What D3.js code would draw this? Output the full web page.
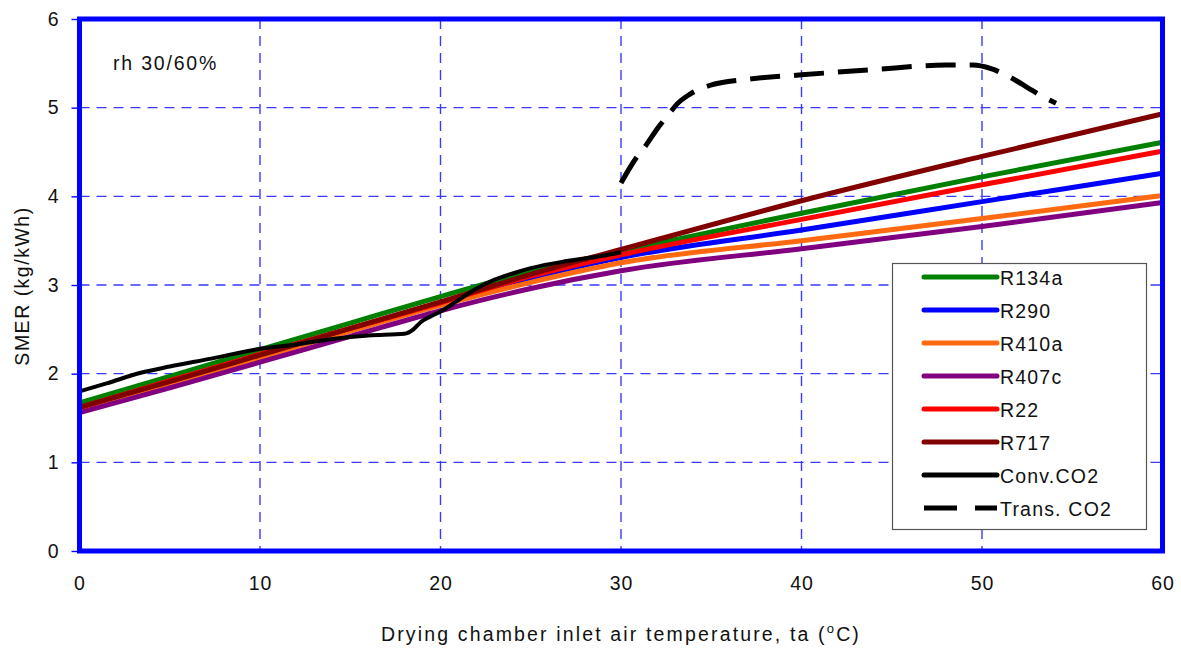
<!DOCTYPE html>
<html>
<head>
<meta charset="utf-8">
<script src="https://cdn.jsdelivr.net/npm/d3@7"></script>
<style>
  html, body { margin: 0; padding: 0; background: #ffffff; }
  svg { display: block; }
  text { font-family: Arial, "Liberation Sans", sans-serif; fill: #111; }
</style>
</head>
<body>
<svg id="chart" width="1181" height="652"></svg>
<script>
// Inlet air temperature (°C) sample points for the refrigerant curves
const temps = [0, 5, 10, 15, 20, 25, 30, 40, 50, 60];

// SMER (kg/kWh) for each refrigerant at the temperatures above
const r134a = [1.67, 1.97, 2.27, 2.57, 2.87, 3.15, 3.38, 3.81, 4.22, 4.61];
const r290  = [1.61, 1.91, 2.20, 2.50, 2.79, 3.08, 3.31, 3.62, 3.94, 4.26];
const r410a = [1.60, 1.89, 2.18, 2.48, 2.77, 3.03, 3.25, 3.50, 3.75, 4.01];
const r407c = [1.56, 1.84, 2.13, 2.42, 2.71, 2.96, 3.16, 3.41, 3.66, 3.93];
const r22   = [1.62, 1.92, 2.22, 2.51, 2.80, 3.10, 3.34, 3.74, 4.13, 4.51];
const r717  = [1.62, 1.91, 2.21, 2.51, 2.81, 3.12, 3.40, 3.95, 4.45, 4.93];

// Conventional CO2 cycle
const convTemps = [0, 1.5, 3.4, 5, 7.3, 10, 12, 14, 16, 18, 18.5, 18.9, 19.4, 20, 21, 22, 23, 24, 25, 27, 29, 30];
const convSmer  = [1.80, 1.89, 2.01, 2.08, 2.17, 2.28, 2.33, 2.39, 2.43, 2.45, 2.50, 2.58, 2.64, 2.70, 2.83, 2.96, 3.06, 3.13, 3.19, 3.27, 3.33, 3.37];

// Transcritical CO2 cycle
const transTemps = [30, 30.7, 31.4, 32, 32.7, 33.1, 33.8, 34.9, 37, 40, 44, 48, 49.5, 50.5, 51.5, 52.5, 53.3, 54.1];
const transSmer  = [4.15, 4.39, 4.58, 4.76, 4.94, 5.04, 5.15, 5.25, 5.32, 5.37, 5.43, 5.48, 5.48, 5.44, 5.35, 5.23, 5.13, 5.05];

// Axis ticks
const xTicks = [0, 10, 20, 30, 40, 50, 60];
const yTicks = [0, 1, 2, 3, 4, 5, 6];

const series = [
  { name: "R134a",      color: "#008000", xs: temps,      ys: r134a,     width: 5, dash: null },
  { name: "R290",       color: "#0000ff", xs: temps,      ys: r290,      width: 5, dash: null },
  { name: "R410a",      color: "#ff6a10", xs: temps,      ys: r410a,     width: 5, dash: null },
  { name: "R407c",      color: "#800080", xs: temps,      ys: r407c,     width: 5, dash: null },
  { name: "R22",        color: "#ff0000", xs: temps,      ys: r22,       width: 5, dash: null },
  { name: "R717",       color: "#800000", xs: temps,      ys: r717,      width: 5, dash: null },
  { name: "Conv.CO2",   color: "#000000", xs: convTemps,  ys: convSmer,  width: 4, dash: null },
  { name: "Trans. CO2", color: "#000000", xs: transTemps, ys: transSmer, width: 5, dash: "30,14" }
];

const svg = d3.select("#chart");
const plot = { left: 79.5, right: 1162.5, top: 19, bottom: 551 };

const x = d3.scaleLinear().domain([0, 60]).range([plot.left, plot.right]);
const y = d3.scaleLinear().domain([0, 6]).range([plot.bottom, plot.top]);

// Dashed grid
const grid = svg.append("g");
grid.selectAll("line.v").data(xTicks.filter(t => t > 0 && t < 60)).join("line")
  .attr("x1", d => x(d)).attr("x2", d => x(d))
  .attr("y1", plot.top).attr("y2", plot.bottom)
  .attr("stroke", "#3a3aff").attr("stroke-width", 1.4).attr("stroke-dasharray", "10,7");
grid.selectAll("line.h").data(yTicks.filter(t => t > 0 && t < 6)).join("line")
  .attr("x1", plot.left).attr("x2", plot.right)
  .attr("y1", d => y(d)).attr("y2", d => y(d))
  .attr("stroke", "#3a3aff").attr("stroke-width", 1.4).attr("stroke-dasharray", "10,7");

// Axes
const yAxis = svg.append("g")
  .attr("transform", `translate(${plot.left - 2},0)`)
  .call(d3.axisLeft(y).tickValues(yTicks).tickSize(6).tickPadding(13).tickFormat(d3.format("d")));
yAxis.select(".domain").remove();
yAxis.selectAll(".tick line").attr("stroke", "#0000ff").attr("stroke-width", 1.4);
yAxis.selectAll(".tick text").style("font-size", "19.5px").style("font-family", "Arial, 'Liberation Sans', sans-serif").attr("fill", "#111");

const xAxis = svg.append("g")
  .attr("transform", `translate(0,${plot.bottom})`)
  .call(d3.axisBottom(x).tickValues(xTicks).tickSize(0).tickPadding(25).tickFormat(d3.format("d")));
xAxis.select(".domain").remove();
xAxis.selectAll(".tick text").style("font-size", "19.5px").style("font-family", "Arial, 'Liberation Sans', sans-serif").style("letter-spacing", "1px").attr("fill", "#111");

// Series lines
const line = d3.line().curve(d3.curveMonotoneX).x(d => x(d[0])).y(d => y(d[1]));
const lines = svg.append("g");
series.forEach(s => {
  const pts = s.xs.map((v, i) => [v, s.ys[i]]);
  lines.append("path")
    .datum(pts)
    .attr("d", line)
    .attr("fill", "none")
    .attr("stroke", s.color)
    .attr("stroke-width", s.width)
    .attr("stroke-linejoin", "round")
    .attr("stroke-dasharray", s.dash);
});

// Plot frame
svg.append("rect")
  .attr("x", plot.left).attr("y", plot.top)
  .attr("width", plot.right - plot.left).attr("height", plot.bottom - plot.top)
  .attr("fill", "none").attr("stroke", "#0000ff").attr("stroke-width", 5);

// Annotation
svg.append("text").attr("x", 113).attr("y", 70)
  .style("font-size", "19.5px").style("letter-spacing", "1.8px")
  .text("rh 30/60%");

// Axis titles
svg.append("text")
  .attr("transform", "translate(29,286) rotate(-90)")
  .attr("text-anchor", "middle")
  .style("font-size", "19.5px").style("letter-spacing", "1.5px")
  .text("SMER (kg/kWh)");

const xt = svg.append("text")
  .attr("x", 621).attr("y", 641)
  .attr("text-anchor", "middle")
  .style("font-size", "19.5px").style("letter-spacing", "2.15px");
xt.append("tspan").text("Drying chamber inlet air temperature, ta (");
xt.append("tspan").attr("dy", -8).style("font-size", "13px").text("o");
xt.append("tspan").attr("dy", 8).text("C)");

// Legend
const legend = svg.append("g");
legend.append("rect")
  .attr("x", 892.5).attr("y", 263.5).attr("width", 254).attr("height", 266)
  .attr("fill", "#ffffff").attr("stroke", "#555").attr("stroke-width", 1.2);
series.forEach((s, i) => {
  const ry = 277 + i * 33;
  legend.append("line")
    .attr("x1", 924).attr("x2", 997).attr("y1", ry).attr("y2", ry)
    .attr("stroke", s.color).attr("stroke-width", 5)
    .attr("stroke-linecap", s.dash ? "butt" : "round")
    .attr("stroke-dasharray", s.dash ? "33,18" : null);
  legend.append("text")
    .attr("x", 1000).attr("y", ry + 7.5)
    .style("font-size", "19.5px").style("letter-spacing", "1.2px")
    .text(s.name);
});
</script>
</body>
</html>
